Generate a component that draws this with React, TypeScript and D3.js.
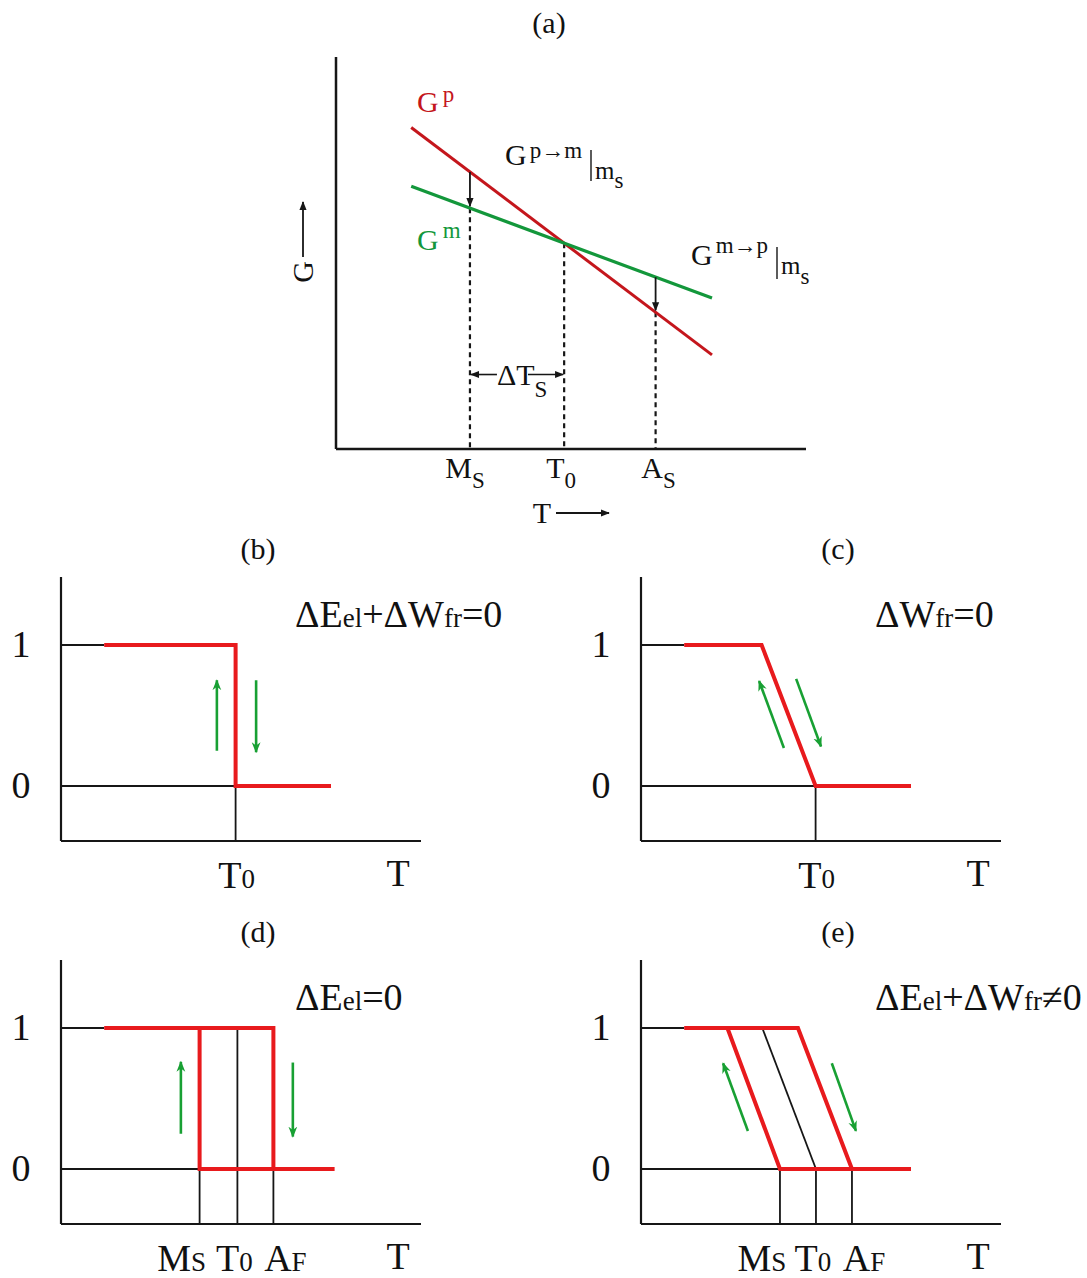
import React from "react";
import * as d3 from "d3";

const SERIF = "'Liberation Serif', 'DejaVu Serif', serif";
const RED_A = "#c4161c";
const GREEN_A = "#13973b";
const RED = "#e81a1d";
const GREEN = "#18a033";
const INK = "#161616";

// ---------- Panel (a) data ----------
const aTemp = [16, 80];          // temperature span of the free-energy lines
const aGParent = [82, 24];       // G^p at the span ends
const aGMart = [67, 38.5];       // G^m at the span ends
const aMs = 28.5;
const aAs = 68;
const aDeltaLevel = 19;          // height of the ΔT_S arrow

// ---------- Panels (b)-(e) data ----------
const phaseTicks = [1, 0];
type Pt = [number, number];
const bRed: Pt[][] = [[[12, 1], [48.5, 1], [48.5, 0], [75, 0]]];
const cRed: Pt[][] = [[[12, 1], [33.5, 1], [48.5, 0], [75, 0]]];
const dRed: Pt[][] = [
  [[12, 1], [59, 1], [59, 0], [76, 0]],
  [[38.5, 1], [38.5, 0], [59, 0]],
];
const eRed: Pt[][] = [
  [[12, 1], [43.6, 1], [58.6, 0], [75, 0]],
  [[24, 1], [38.6, 0], [58.6, 0]],
];
const BOT = -0.39;
const bBlack: Pt[][] = [[[0, 1], [12, 1]], [[0, 0], [48.5, 0]], [[48.5, 0], [48.5, BOT]]];
const cBlack: Pt[][] = [[[0, 1], [12, 1]], [[0, 0], [48.5, 0]], [[48.5, 0], [48.5, BOT]]];
const dBlack: Pt[][] = [
  [[0, 1], [12, 1]], [[0, 0], [38.5, 0]],
  [[38.5, 0], [38.5, BOT]], [[49, 1], [49, BOT]], [[59, 0], [59, BOT]],
];
const eBlack: Pt[][] = [
  [[0, 1], [12, 1]], [[0, 0], [38.6, 0]],
  [[33.7, 1], [48.6, 0]],
  [[38.6, 0], [38.6, BOT]], [[48.6, 0], [48.6, BOT]], [[58.6, 0], [58.6, BOT]],
];
const bArrows: Pt[][] = [[[43.3, 0.25], [43.3, 0.75]], [[54.2, 0.75], [54.2, 0.24]]];
const cArrows: Pt[][] = [[[39.7, 0.27], [32.8, 0.745]], [[43.1, 0.76], [50, 0.28]]];
const dArrows: Pt[][] = [[[33.3, 0.25], [33.3, 0.76]], [[64.4, 0.755], [64.4, 0.23]]];
const eArrows: Pt[][] = [[[29.7, 0.27], [22.8, 0.75]], [[53, 0.75], [59.7, 0.27]]];

type Lab = { t: string; s: string; T: number; dx: number };
const bLabels: Lab[] = [{ t: "T", s: "0", T: 48.5, dx: 1 }];
const cLabels: Lab[] = [{ t: "T", s: "0", T: 48.5, dx: 1 }];
const dLabels: Lab[] = [
  { t: "M", s: "S", T: 38.5, dx: -18 },
  { t: "T", s: "0", T: 49, dx: -3 },
  { t: "A", s: "F", T: 59, dx: 12 },
];
const eLabels: Lab[] = [
  { t: "M", s: "S", T: 38.6, dx: -18 },
  { t: "T", s: "0", T: 48.6, dx: -3 },
  { t: "A", s: "F", T: 58.6, dx: 12 },
];
type Part = [string, boolean];
const bNote: Part[] = [["ΔE", false], ["el", true], ["+ΔW", false], ["fr", true], ["=0", false]];
const cNote: Part[] = [["ΔW", false], ["fr", true], ["=0", false]];
const dNote: Part[] = [["ΔE", false], ["el", true], ["=0", false]];
const eNote: Part[] = [["ΔE", false], ["el", true], ["+ΔW", false], ["fr", true], ["≠0", false]];

const panels = [
  { title: "(b)", ox: 61, top: 577, red: bRed, black: bBlack, arrows: bArrows, labels: bLabels, note: bNote },
  { title: "(c)", ox: 641, top: 577, red: cRed, black: cBlack, arrows: cArrows, labels: cLabels, note: cNote },
  { title: "(d)", ox: 61, top: 960, red: dRed, black: dBlack, arrows: dArrows, labels: dLabels, note: dNote },
  { title: "(e)", ox: 641, top: 960, red: eRed, black: eBlack, arrows: eArrows, labels: eLabels, note: eNote },
];

function PhasePanel({ p }: { p: (typeof panels)[number] }) {
  const x = d3.scaleLinear().domain([0, 100]).range([p.ox, p.ox + 360]);
  const y = d3.scaleLinear().domain([0, 1]).range([p.top + 209, p.top + 68]);
  const line = d3.line<Pt>().x((d) => x(d[0])).y((d) => y(d[1]));
  const yAxisTop = p.top;
  const yAxisBot = y(BOT);
  return (
    <g>
      <text x={p.ox + 197} y={p.top - 18} fontSize={30} textAnchor="middle" fontFamily={SERIF} fill="#111">{p.title}</text>
      <line x1={x(0)} x2={x(0)} y1={yAxisTop} y2={yAxisBot} stroke={INK} strokeWidth={2.2} />
      <line x1={x(0)} x2={x(100)} y1={yAxisBot} y2={yAxisBot} stroke={INK} strokeWidth={2.2} />
      {phaseTicks.map((v) => (
        <text key={v} x={p.ox - 40} y={y(v) + 12} fontSize={38} textAnchor="middle" fontFamily={SERIF} fill="#111">{v}</text>
      ))}
      {p.black.map((s, i) => (
        <path key={"k" + i} d={line(s) || ""} fill="none" stroke={INK} strokeWidth={1.8} />
      ))}
      {p.red.map((s, i) => (
        <path key={"r" + i} d={line(s) || ""} fill="none" stroke={RED} strokeWidth={4} strokeLinejoin="miter" />
      ))}
      {p.arrows.map((s, i) => (
        <path key={"g" + i} d={line(s) || ""} fill="none" stroke={GREEN} strokeWidth={2.6} markerEnd="url(#greenHead)" />
      ))}
      {p.labels.map((l, i) => (
        <text key={"l" + i} x={x(l.T) + l.dx} y={yAxisBot + 47} fontSize={38} textAnchor="middle" fontFamily={SERIF} fill="#111">
          {l.t}<tspan fontSize={27}>{l.s}</tspan>
        </text>
      ))}
      <text x={p.ox + 337} y={yAxisBot + 45} fontSize={38} textAnchor="middle" fontFamily={SERIF} fill="#111">T</text>
      <text x={p.ox + 234} y={p.top + 50} fontSize={38} fontFamily={SERIF} fill="#111">
        {p.note.map((n, i) => (
          <tspan key={i} fontSize={n[1] ? 27 : 38}>{n[0]}</tspan>
        ))}
      </text>
    </g>
  );
}

function PanelA() {
  const x = d3.scaleLinear().domain([0, 100]).range([336, 806]);
  const y = d3.scaleLinear().domain([0, 100]).range([449, 57]);
  const gP = d3.scaleLinear().domain(aTemp).range(aGParent);
  const gM = d3.scaleLinear().domain(aTemp).range(aGMart);
  // crossing temperature T0
  const sP = (aGParent[1] - aGParent[0]) / (aTemp[1] - aTemp[0]);
  const sM = (aGMart[1] - aGMart[0]) / (aTemp[1] - aTemp[0]);
  const T0 = aTemp[0] + (aGMart[0] - aGParent[0]) / (sP - sM);
  const redPath = d3.line<number>().x((t) => x(t)).y((t) => y(gP(t)))(aTemp) || "";
  const greenPath = d3.line<number>().x((t) => x(t)).y((t) => y(gM(t)))(aTemp) || "";
  const dash = "5,4";
  const fs = 30;
  const sup = 23;
  const yD = y(aDeltaLevel);
  return (
    <g fontFamily={SERIF}>
      <text x={549} y={33} fontSize={30} textAnchor="middle" fill="#111">(a)</text>
      {/* axes */}
      <line x1={x(0)} x2={x(0)} y1={y(100)} y2={y(0)} stroke={INK} strokeWidth={2.5} />
      <line x1={x(0)} x2={x(100)} y1={y(0)} y2={y(0)} stroke={INK} strokeWidth={2.5} />
      {/* dashed drop lines */}
      <line x1={x(aMs)} x2={x(aMs)} y1={y(gM(aMs))} y2={y(0)} stroke={INK} strokeWidth={2.2} strokeDasharray={dash} />
      <line x1={x(T0)} x2={x(T0)} y1={y(gM(T0))} y2={y(0)} stroke={INK} strokeWidth={2.2} strokeDasharray={dash} />
      <line x1={x(aAs)} x2={x(aAs)} y1={y(gP(aAs))} y2={y(0)} stroke={INK} strokeWidth={2.2} strokeDasharray={dash} />
      {/* G lines */}
      <path d={redPath} stroke={RED_A} strokeWidth={3} fill="none" />
      <path d={greenPath} stroke={GREEN_A} strokeWidth={3.2} fill="none" />
      {/* driving force arrows */}
      <line x1={x(aMs)} x2={x(aMs)} y1={y(gP(aMs))} y2={y(gM(aMs)) - 2} stroke={INK} strokeWidth={1.8} markerEnd="url(#blackHead)" />
      <line x1={x(aAs)} x2={x(aAs)} y1={y(gM(aAs))} y2={y(gP(aAs)) - 2} stroke={INK} strokeWidth={1.8} markerEnd="url(#blackHead)" />
      {/* ΔT_S */}
      <line x1={x(aMs) + 27} x2={x(aMs) + 1} y1={yD} y2={yD} stroke={INK} strokeWidth={1.6} markerEnd="url(#blackHead)" />
      <line x1={x(aMs) + 58} x2={x(T0) - 1} y1={yD} y2={yD} stroke={INK} strokeWidth={1.6} markerEnd="url(#blackHead)" />
      <text x={x(aMs) + 27} y={yD + 10} fontSize={fs} fill="#111">
        ΔT<tspan dy={12} fontSize={sup}>S</tspan>
      </text>
      {/* tick labels */}
      <text x={x(aMs) - 5} y={478} fontSize={fs} textAnchor="middle" fill="#111">M<tspan dy={10} fontSize={sup}>S</tspan></text>
      <text x={x(T0) - 3} y={478} fontSize={fs} textAnchor="middle" fill="#111">T<tspan dy={10} fontSize={sup}>0</tspan></text>
      <text x={x(aAs) + 3} y={478} fontSize={fs} textAnchor="middle" fill="#111">A<tspan dy={10} fontSize={sup}>S</tspan></text>
      {/* axis titles */}
      <text x={542} y={523} fontSize={fs} textAnchor="middle" fill="#111">T</text>
      <line x1={556} x2={609} y1={513} y2={513} stroke={INK} strokeWidth={1.8} markerEnd="url(#blackHead)" />
      <text transform="translate(313,272) rotate(-90)" fontSize={fs} textAnchor="middle" fill="#111">G</text>
      <line x1={303} x2={303} y1={257} y2={202} stroke={INK} strokeWidth={1.8} markerEnd="url(#blackHead)" />
      {/* curve labels */}
      <text x={417} y={112} fontSize={fs} fill={RED_A}>G<tspan dx={4} dy={-10} fontSize={sup}>p</tspan></text>
      <text x={417} y={250} fontSize={fs} fill={GREEN_A}>G<tspan dx={4} dy={-12} fontSize={sup}>m</tspan></text>
      <text x={505} y={165} fontSize={fs} fill="#111">G<tspan dx={3} dy={-7} fontSize={sup}>p→m</tspan></text>
      <line x1={591} x2={591} y1={150} y2={181} stroke={INK} strokeWidth={1.4} />
      <text x={595} y={179} fontSize={25} fill="#111">m<tspan dy={9} fontSize={sup}>s</tspan></text>
      <text x={691} y={265} fontSize={fs} fill="#111">G<tspan dx={3} dy={-12} fontSize={sup}>m→p</tspan></text>
      <line x1={777} x2={777} y1={247} y2={279} stroke={INK} strokeWidth={1.4} />
      <text x={781} y={274} fontSize={25} fill="#111">m<tspan dy={10} fontSize={sup}>s</tspan></text>
    </g>
  );
}

export default function App() {
  return (
    <svg width={1087} height={1278} viewBox="0 0 1087 1278"
      style={{ position: "absolute", left: 0, top: 0, background: "#fff" }}>
      <defs>
        <marker id="blackHead" viewBox="0 0 10 10" refX={9} refY={5} markerWidth={9} markerHeight={9}
          markerUnits="userSpaceOnUse" orient="auto">
          <path d="M0,1 L10,5 L0,9 Z" fill={INK} />
        </marker>
        <marker id="greenHead" viewBox="0 0 10 10" refX={9} refY={5} markerWidth={11} markerHeight={11}
          markerUnits="userSpaceOnUse" orient="auto">
          <path d="M0,1 L10,5 L0,9 L3,5 Z" fill={GREEN} />
        </marker>
      </defs>
      <rect width={1087} height={1278} fill="#fff" />
      <PanelA />
      {panels.map((p) => (
        <PhasePanel key={p.title} p={p} />
      ))}
    </svg>
  );
}
